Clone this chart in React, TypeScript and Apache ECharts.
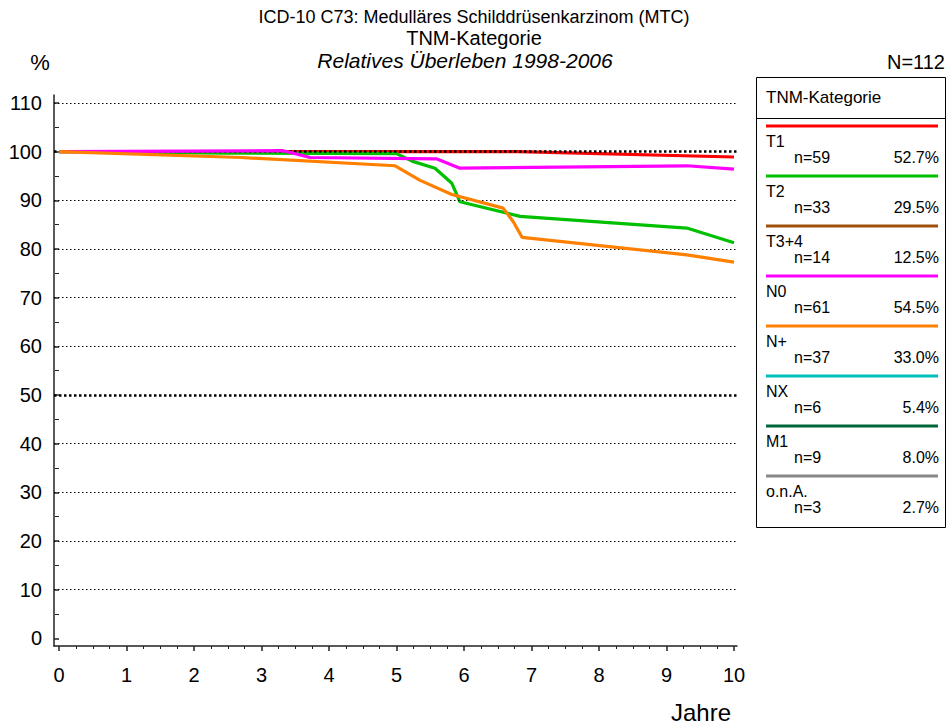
import React, { useEffect, useRef } from "react";
import * as echarts from "echarts";

const FONT = "'Liberation Sans', Arial, sans-serif";

// Survival curves (years, relative survival %)
const t1Years = [0, 6.8, 10];
const t1Values = [100, 100, 98.9];
const t2Years = [0, 2.5, 5.0, 5.24, 5.57, 5.82, 5.94, 6.83, 9.3, 10];
const t2Values = [100, 99.7, 99.6, 98.0, 96.6, 93.5, 89.7, 86.7, 84.3, 81.3];
const n0Years = [0, 3.32, 3.72, 5.6, 5.94, 9.3, 10];
const n0Values = [100, 100.2, 98.8, 98.5, 96.6, 97.1, 96.4];
const nPlusYears = [0, 2.7, 4.98, 5.35, 5.82, 6.58, 6.73, 6.86, 9.3, 10];
const nPlusValues = [100, 98.8, 97.1, 94.1, 91.2, 88.4, 85.6, 82.4, 78.8, 77.3];

const plottedNames = ["T1", "T2", "N0", "N+"];
const plottedColors = ["#ff0000", "#00c000", "#ff00ff", "#ff8000"];
const plottedYears = [t1Years, t2Years, n0Years, nPlusYears];
const plottedValues = [t1Values, t2Values, n0Values, nPlusValues];

// Legend
const legendNames = ["T1", "T2", "T3+4", "N0", "N+", "NX", "M1", "o.n.A."];
const legendCounts = [59, 33, 14, 61, 37, 6, 9, 3];
const legendShares = ["52.7%", "29.5%", "12.5%", "54.5%", "33.0%", "5.4%", "8.0%", "2.7%"];
const legendColors = ["#ff0000", "#00c000", "#a0500a", "#ff00ff", "#ff8000", "#00c0c0", "#00663a", "#888888"];

// Grid levels
const gridLevels = [10, 20, 30, 40, 50, 60, 70, 80, 90, 100, 110];
const boldLevels = [50, 100];

const titleLines = [
  "ICD-10 C73: Medulläres Schilddrüsenkarzinom (MTC)",
  "TNM-Kategorie",
  "Relatives Überleben 1998-2006",
];

export default function App() {
  const ref = useRef<HTMLDivElement>(null);
  useEffect(() => {
    document.body.style.margin = "0";
    const chart = echarts.init(ref.current!, null, { renderer: "svg" });

    const legendGraphics: any[] = [
      {
        type: "rect",
        shape: { x: 756.5, y: 77.5, width: 189, height: 450 },
        style: { fill: "#fff", stroke: "#000", lineWidth: 1 },
        z: 0,
      },
      {
        type: "line",
        shape: { x1: 756.5, y1: 118.5, x2: 945.5, y2: 118.5 },
        style: { stroke: "#000", lineWidth: 1 },
      },
      {
        type: "text",
        x: 766,
        y: 97,
        style: { text: "TNM-Kategorie", font: `17px ${FONT}`, fill: "#000", align: "left", verticalAlign: "middle" },
      },
    ];
    legendNames.forEach((name, i) => {
      const base = 126 + 50 * i;
      legendGraphics.push(
        {
          type: "line",
          shape: { x1: 766, y1: base, x2: 938, y2: base },
          style: { stroke: legendColors[i], lineWidth: 3 },
        },
        {
          type: "text",
          x: 766,
          y: base + 15,
          style: { text: name, font: `16px ${FONT}`, fill: "#000", align: "left", verticalAlign: "middle" },
        },
        {
          type: "text",
          x: 794,
          y: base + 31,
          style: { text: `n=${legendCounts[i]}`, font: `16px ${FONT}`, fill: "#000", align: "left", verticalAlign: "middle" },
        },
        {
          type: "text",
          x: 939,
          y: base + 31,
          style: { text: legendShares[i], font: `16px ${FONT}`, fill: "#000", align: "right", verticalAlign: "middle" },
        }
      );
    });

    const textGraphics: any[] = [
      { type: "text", x: 474, y: 17, style: { text: titleLines[0], font: `18px ${FONT}`, fill: "#000", align: "center", verticalAlign: "middle" } },
      { type: "text", x: 474, y: 38, style: { text: titleLines[1], font: `20px ${FONT}`, fill: "#000", align: "center", verticalAlign: "middle" } },
      { type: "text", x: 465, y: 60, style: { text: titleLines[2], font: `italic 21px ${FONT}`, fill: "#000", align: "center", verticalAlign: "middle" } },
      { type: "text", x: 40, y: 62, style: { text: "%", font: `22px ${FONT}`, fill: "#000", align: "center", verticalAlign: "middle" } },
      { type: "text", x: 945, y: 62, style: { text: "N=112", font: `20px ${FONT}`, fill: "#000", align: "right", verticalAlign: "middle" } },
      { type: "text", x: 701, y: 712, style: { text: "Jahre", font: `24px ${FONT}`, fill: "#000", align: "center", verticalAlign: "middle" } },
    ];

    const axisColor = "#222";

    const option: any = {
      animation: false,
      backgroundColor: "#fff",
      grid: [
        { left: 54, right: 211, top: 103, bottom: 87.7 },
        { left: 59, right: 214, top: 103, bottom: 80 },
        { left: 54, right: 211, top: 95, bottom: 80 },
      ],
      xAxis: [
        { gridIndex: 0, type: "value", min: -5 / 67.5, max: 10 + 3 / 67.5, show: false },
        {
          gridIndex: 1,
          type: "value",
          min: 0,
          max: 10,
          interval: 1,
          axisLine: { show: false },
          axisTick: { show: true, length: 5, lineStyle: { color: axisColor, width: 1.5 } },
          minorTick: { show: true, splitNumber: 4, length: 3, lineStyle: { color: axisColor, width: 1 } },
          axisLabel: { fontSize: 20, color: "#000", margin: 19, fontFamily: FONT },
          splitLine: { show: false },
        },
        {
          gridIndex: 2,
          type: "value",
          min: 0,
          max: 1,
          axisLine: { show: true, onZero: false, lineStyle: { color: axisColor, width: 1.5 } },
          axisTick: { show: false },
          axisLabel: { show: false },
          splitLine: { show: false },
        },
      ],
      yAxis: [
        {
          gridIndex: 0,
          type: "value",
          min: 0,
          max: 110,
          interval: 10,
          axisLine: { show: false },
          axisTick: { show: true, length: 5, lineStyle: { color: axisColor, width: 1.5 } },
          minorTick: { show: true, splitNumber: 2, length: 4, lineStyle: { color: axisColor, width: 1 } },
          axisLabel: { fontSize: 20, color: "#000", margin: 12, fontFamily: FONT },
          splitLine: { show: false },
        },
        { gridIndex: 1, type: "value", min: 0, max: 110, show: false },
        {
          gridIndex: 2,
          type: "value",
          min: 0,
          max: 1,
          axisLine: { show: true, onZero: false, lineStyle: { color: axisColor, width: 1.5 } },
          axisTick: { show: false },
          axisLabel: { show: false },
          splitLine: { show: false },
        },
      ],
      series: [
        {
          type: "line",
          name: "grid",
          xAxisIndex: 0,
          yAxisIndex: 0,
          data: [],
          z: 1,
          silent: true,
          markLine: {
            silent: true,
            symbol: "none",
            label: { show: false },
            data: gridLevels.map((v) => {
              const bold = boldLevels.includes(v);
              return {
                yAxis: v,
                lineStyle: {
                  color: "#000",
                  width: bold ? 2.5 : 1,
                  type: bold ? [2.5, 2.5] : [1.5, 2.5],
                },
              };
            }),
          },
        },
        ...plottedNames.map((name, i) => ({
          type: "line",
          name,
          xAxisIndex: 0,
          yAxisIndex: 0,
          z: 3 + i,
          showSymbol: false,
          symbol: "none",
          lineStyle: { color: plottedColors[i], width: 3.2 },
          itemStyle: { color: plottedColors[i] },
          data: plottedYears[i].map((x, j) => [x, plottedValues[i][j]]),
        })),
      ],
      graphic: [...textGraphics, ...legendGraphics],
    };
    chart.setOption(option);
    return () => chart.dispose();
  }, []);
  return <div ref={ref} style={{ width: 948, height: 726 }} />;
}
